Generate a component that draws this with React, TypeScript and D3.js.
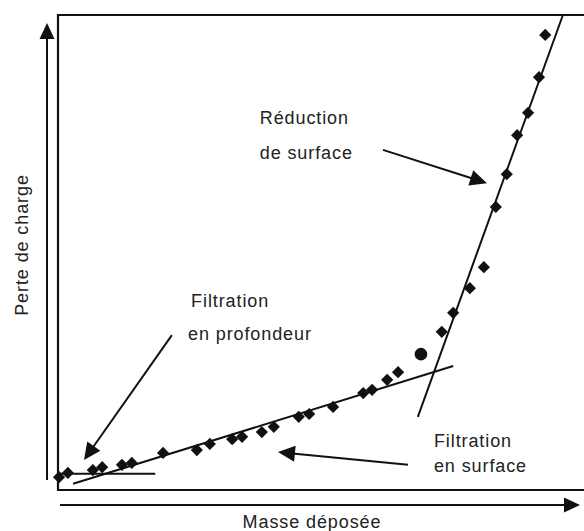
import React from "react";
import * as d3 from "d3";

// Measured points (masse déposée, perte de charge) in arbitrary units
const masse = [0.2, 1.9, 6.7, 8.5, 12.3, 14.2, 20.2, 26.7, 29.2, 33.5, 35.4, 39.2, 41.5, 46.3, 48.3, 52.9, 58.7, 60.4, 63.3, 65.4, 69.8, 73.8, 76.0, 79.2, 81.9, 84.2, 86.3, 88.3, 90.4, 92.5, 93.7];
const perte = [2.7, 3.6, 4.2, 4.8, 5.3, 5.7, 7.8, 8.4, 9.7, 10.7, 11.2, 12.2, 13.3, 15.4, 16.0, 17.5, 20.4, 21.1, 23.2, 24.8, 28.6, 33.3, 37.3, 42.5, 46.9, 59.6, 66.5, 74.7, 79.4, 86.9, 95.8];
const markerShape = masse.map((_, i) => (i === 20 ? "circle" : "diamond"));

// Fit lines [x1, y1, x2, y2]
const fitLines = [
  [2.9, 1.3, 76.0, 26.1],
  [69.2, 15.4, 97.1, 100],
  [0.4, 3.4, 18.7, 3.4],
];

// Annotation arrows [fromX, fromY, tipX, tipY]
const arrows = [
  [62.5, 71.6, 82.5, 64.6],
  [21.9, 32.6, 5.0, 6.3],
  [67.3, 5.3, 42.3, 8.0],
];

// Annotation text lines
const labelText = ["Réduction", "de surface", "Filtration", "en profondeur", "Filtration", "en surface"];
const labelX = [38.8, 38.8, 25.6, 25.0, 72.3, 72.3];
const labelY = [77.1, 69.7, 38.5, 31.6, 9.1, 3.8];

const xTitle = "Masse déposée";
const yTitle = "Perte de charge";

const W = 584;
const H = 531;
const left = 58;
const top = 15;
const bottom = 490;

export default function App() {
  const x = d3.scaleLinear().domain([0, 100]).range([left, 578]);
  const y = d3.scaleLinear().domain([0, 100]).range([bottom, top]);
  const line = d3.line<[number, number]>().x((d) => x(d[0])).y((d) => y(d[1]));
  const ink = "#111";
  const font = "'Liberation Sans', Arial, sans-serif";

  const arrowHead = (x1: number, y1: number, x2: number, y2: number, len = 16, half = 7) => {
    const ang = Math.atan2(y2 - y1, x2 - x1);
    const bx = x2 - len * Math.cos(ang);
    const by = y2 - len * Math.sin(ang);
    const px = -Math.sin(ang) * half;
    const py = Math.cos(ang) * half;
    return `M${x2},${y2} L${bx + px},${by + py} L${bx - px},${by - py} Z`;
  };

  const diamond = d3.symbol().type(d3.symbolDiamond2).size(95)();

  return (
    <svg width={W} height={H} style={{ position: "absolute", left: 0, top: 0, background: "#fff" }}>
      <rect x={0} y={0} width={W} height={H} fill="#fff" />
      {/* Plot box */}
      <path d={`M${W + 10},${top} H${left} V${bottom} H${W + 10}`} fill="none" stroke={ink} strokeWidth={2.2} />

      {/* Y axis arrow */}
      <line x1={47} y1={480} x2={47} y2={36} stroke={ink} strokeWidth={2} />
      <path d={arrowHead(47, 480, 47, 23, 16, 7.5)} fill={ink} />
      {/* X axis arrow */}
      <line x1={60} y1={505} x2={566} y2={505} stroke={ink} strokeWidth={2} />
      <path d={arrowHead(60, 505, 580, 505, 16, 7.5)} fill={ink} />

      {/* Fit lines */}
      {fitLines.map((l, i) => (
        <path key={"f" + i} d={line([[l[0], l[1]], [l[2], l[3]]]) || ""} stroke={ink} strokeWidth={2} fill="none" />
      ))}

      {/* Data points */}
      {masse.map((m, i) =>
        markerShape[i] === "circle" ? (
          <circle key={"p" + i} cx={x(m)} cy={y(perte[i])} r={6.3} fill={ink} />
        ) : (
          <path key={"p" + i} d={diamond || ""} transform={`translate(${x(m)},${y(perte[i])})`} fill={ink} />
        )
      )}

      {/* Annotation arrows */}
      {arrows.map((a, i) => {
        const x1 = x(a[0]), y1 = y(a[1]), x2 = x(a[2]), y2 = y(a[3]);
        const ang = Math.atan2(y2 - y1, x2 - x1);
        return (
          <g key={"a" + i}>
            <line x1={x1} y1={y1} x2={x2 - 12 * Math.cos(ang)} y2={y2 - 12 * Math.sin(ang)} stroke={ink} strokeWidth={2} />
            <path d={arrowHead(x1, y1, x2, y2, 17, 8)} fill={ink} />
          </g>
        );
      })}

      {/* Labels */}
      {labelText.map((t, i) => (
        <text key={"l" + i} x={x(labelX[i])} y={y(labelY[i])} fontFamily={font} fontSize={18} letterSpacing={0.9} fill="#222">
          {t}
        </text>
      ))}

      {/* Axis titles */}
      <text x={312} y={528} textAnchor="middle" fontFamily={font} fontSize={18} letterSpacing={0.9} fill="#222">
        {xTitle}
      </text>
      <text transform="translate(28,245) rotate(-90)" textAnchor="middle" fontFamily={font} fontSize={18} letterSpacing={0.9} fill="#222">
        {yTitle}
      </text>
    </svg>
  );
}
